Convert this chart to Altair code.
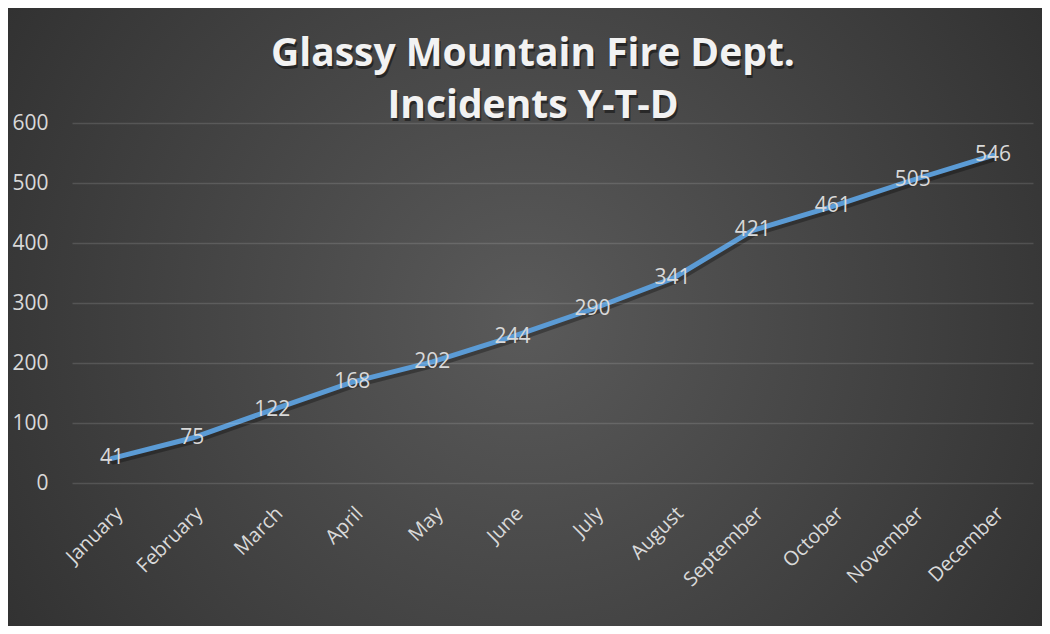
import altair as alt
import pandas as pd

months = ["January", "February", "March", "April", "May", "June", "July",
          "August", "September", "October", "November", "December"]
incidents = [41, 75, 122, 168, 202, 244, 290, 341, 421, 461, 505, 546]
y_ticks = [0, 100, 200, 300, 400, 500, 600]
title_lines = ["Glassy Mountain Fire Dept.", "Incidents Y-T-D"]

df = pd.DataFrame({"month": months, "incidents": incidents})

W, H = 961, 360
PL, PT, PR, PB = 64, 115, 9, 143
FONT = "Open Sans"
LABEL = "#d9d9d9"

x_enc = alt.X("month:N", sort=months,
              scale=alt.Scale(type="point", padding=0.5),
              axis=alt.Axis(title=None, labelAngle=-45, labelFontSize=20,
                            labelColor=LABEL, labelFont=FONT, domain=False,
                            ticks=False, labelPadding=20, grid=False,
                            zindex=1))
y_enc = alt.Y("incidents:Q", scale=alt.Scale(domain=[0, 600]),
              axis=alt.Axis(title=None, values=y_ticks, labelFontSize=21,
                            labelColor=LABEL, labelFont=FONT, domain=False,
                            ticks=False, labelPadding=24, grid=True,
                            gridColor="#ffffff", gridOpacity=0.13,
                            gridWidth=1.5, zindex=1))

bg = alt.Chart(pd.DataFrame({"a": [0]})).mark_rect(
    clip=False,
    color={"gradient": "radial", "x1": 0.5, "y1": 0.5, "r1": 0,
           "x2": 0.5, "y2": 0.5, "r2": 0.75,
           "stops": [{"offset": 0, "color": "#5a5a5a"},
                     {"offset": 1, "color": "#262626"}]}
).encode(x=alt.value(-PL - 4), x2=alt.value(W + PR + 4),
         y=alt.value(-PT - 4), y2=alt.value(H + PB + 4))


def title_layer(text, yy, shadow):
    props = dict(font=FONT, fontSize=39, fontWeight="bold", align="center",
                 baseline="alphabetic", clip=False)
    if shadow:
        props.update(color="#000000", opacity=0.45, dx=1.5, dy=2.5)
    else:
        props.update(color="#f2f2f2")
    return alt.Chart(pd.DataFrame({"line": [text]})).mark_text(**props).encode(
        x=alt.value(461), y=alt.value(yy), text="line:N")


titles = [title_layer(t, yy, s) for s in (True, False)
          for t, yy in zip(title_lines, [-57, -5])]

base = alt.Chart(df)
axes = base.mark_line(opacity=0).encode(x=x_enc, y=y_enc)
shadow = base.mark_line(color="#000000", opacity=0.3, strokeWidth=6,
                        xOffset=1.5, yOffset=3, strokeCap="round").encode(
    x=alt.X("month:N", sort=months), y="incidents:Q")
line = base.mark_line(color="#5b9bd5", strokeWidth=5, strokeCap="round").encode(
    x=alt.X("month:N", sort=months), y="incidents:Q")
labels = base.mark_text(font=FONT, fontSize=21, color=LABEL,
                        baseline="middle", align="center").encode(
    x=alt.X("month:N", sort=months), y="incidents:Q", text="incidents:Q")

chart = alt.layer(bg, axes, shadow, line, labels, *titles).properties(
    width=W, height=H,
    padding={"left": PL, "top": PT, "right": PR, "bottom": PB},
    autosize=alt.AutoSizeParams(type="none"),
).configure_view(stroke=None).configure(background="#2a2a2a")

chart.save("out.html", embed_options={"renderer": "svg", "actions": False})
